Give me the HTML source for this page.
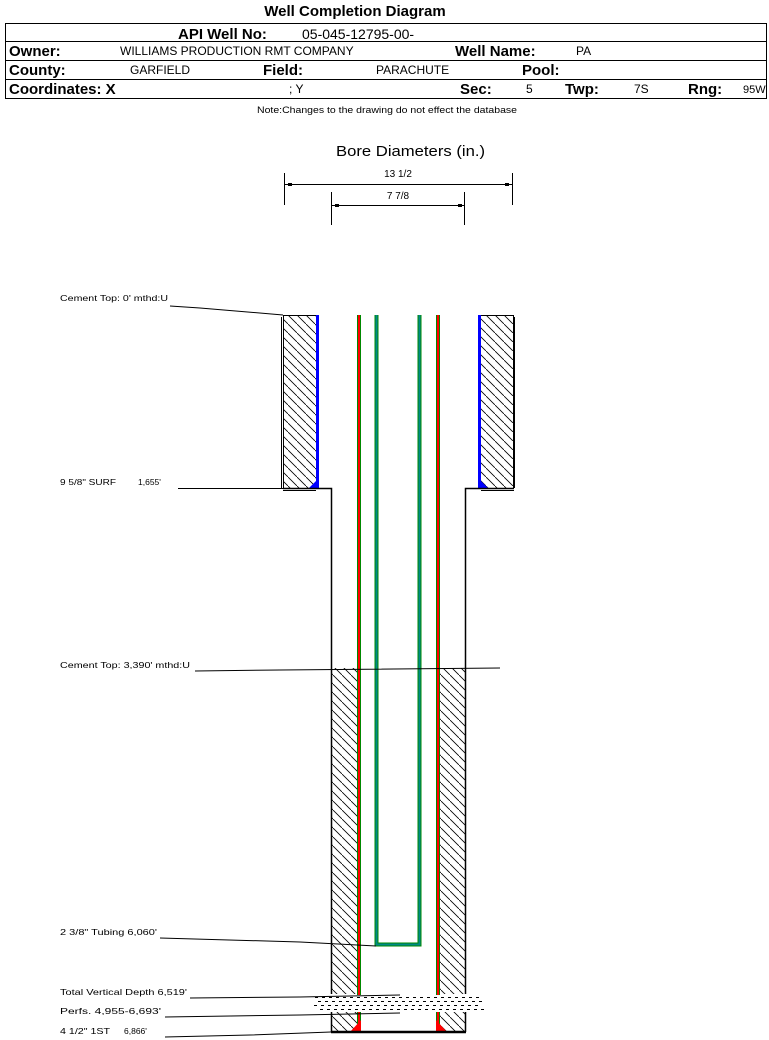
<!DOCTYPE html>
<html><head><meta charset="utf-8"><style>
body{margin:0;background:#fff;}
svg{display:block;font-family:"Liberation Sans",Arial,sans-serif;}
</style></head><body>
<svg width="769" height="1040" viewBox="0 0 769 1040" xmlns="http://www.w3.org/2000/svg">
<defs>
<pattern id="h" width="9" height="9" patternUnits="userSpaceOnUse">
<path d="M-1,-1 L10,10" stroke="#000" stroke-width="0.8"/>
</pattern>
</defs>
<text x="355" y="16" font-size="15" font-weight="bold" text-anchor="middle">Well Completion Diagram</text>
<g stroke="#000" fill="none">
<rect x="5.5" y="23.5" width="761" height="75"/>
<line x1="5" y1="41.5" x2="767" y2="41.5"/>
<line x1="5" y1="60.5" x2="767" y2="60.5"/>
<line x1="5" y1="79.5" x2="767" y2="79.5"/>
</g>
<g font-size="15" font-weight="bold">
<text x="178" y="39">API Well No:</text>
<text x="9" y="56">Owner:</text>
<text x="455" y="56">Well Name:</text>
<text x="9" y="75">County:</text>
<text x="263" y="75">Field:</text>
<text x="522" y="75">Pool:</text>
<text x="9" y="94">Coordinates: X</text>
<text x="460" y="94">Sec:</text>
<text x="565" y="94">Twp:</text>
<text x="688" y="94">Rng:</text>
</g>
<g font-size="12">
<text x="302" y="39" font-size="14">05-045-12795-00-</text>
<text x="120" y="55">WILLIAMS PRODUCTION RMT COMPANY</text>
<text x="576" y="55">PA</text>
<text x="130" y="74">GARFIELD</text>
<text x="376" y="74">PARACHUTE</text>
<text x="289" y="93">; Y</text>
<text x="526" y="93">5</text>
<text x="634" y="93">7S</text>
<text x="743" y="93" font-size="11">95W</text>
</g>
<text x="257" y="113" font-size="9" textLength="260" lengthAdjust="spacingAndGlyphs">Note:Changes to the drawing do not effect the database</text>
<text x="336" y="156" font-size="15" textLength="149" lengthAdjust="spacingAndGlyphs">Bore Diameters (in.)</text>
<g stroke="#000">
<line x1="284.5" y1="173" x2="284.5" y2="205"/><line x1="512.5" y1="173" x2="512.5" y2="205"/>
<line x1="285" y1="184.5" x2="512" y2="184.5"/>
<line x1="331.5" y1="192" x2="331.5" y2="225"/><line x1="464.5" y1="192" x2="464.5" y2="225"/>
<line x1="331" y1="205.5" x2="465" y2="205.5"/>
</g>
<rect x="288" y="183" width="4" height="3"/><rect x="505" y="183" width="4" height="3"/>
<rect x="335" y="204" width="4" height="3"/><rect x="458" y="204" width="4" height="3"/>
<text x="398" y="177" font-size="10" text-anchor="middle">13 1/2</text>
<text x="398" y="199" font-size="10" text-anchor="middle">7 7/8</text>

<rect x="283.5" y="315.5" width="33" height="173" fill="url(#h)" stroke="#000"/>
<rect x="480.5" y="315.5" width="33" height="173" fill="url(#h)" stroke="#000"/>
<rect x="316" y="315" width="3" height="173" fill="#00f"/>
<rect x="478" y="315" width="3" height="173" fill="#00f"/>
<path d="M309,488 L319,488 L319,478Z" fill="#00f"/>
<path d="M478,478 L478,488 L488,488Z" fill="#00f"/>
<g stroke="#000" fill="none">
<line x1="281.5" y1="317" x2="281.5" y2="488"/>
<line x1="514.5" y1="317" x2="514.5" y2="488"/>
<polyline points="283,488.5 331.5,488.5 331.5,1032" stroke-width="1.5"/>
<polyline points="514,488.5 465.5,488.5 465.5,1032" stroke-width="1.5"/>
<line x1="283" y1="490.5" x2="316" y2="490.5"/>
<line x1="481" y1="490.5" x2="514" y2="490.5"/>
</g>
<rect x="332" y="668" width="26" height="364" fill="url(#h)"/>
<rect x="439" y="668" width="26" height="364" fill="url(#h)"/>
<rect x="312" y="994" width="172" height="18" fill="#fff"/>
<g stroke="#000" stroke-dasharray="3,4" stroke-width="1">
<line x1="315" y1="997.5" x2="482" y2="997.5"/>
<line x1="318" y1="1001.5" x2="484" y2="1001.5"/>
<line x1="314" y1="1005.5" x2="480" y2="1005.5"/>
<line x1="320" y1="1009.5" x2="484" y2="1009.5"/>
</g>
<rect x="357" y="315" width="4" height="680" fill="#080"/><rect x="358" y="315" width="2" height="680" fill="#f00"/>
<rect x="436" y="315" width="4" height="680" fill="#080"/><rect x="437" y="315" width="2" height="680" fill="#f00"/>
<rect x="357" y="1012" width="4" height="20" fill="#080"/><rect x="358" y="1012" width="2" height="20" fill="#f00"/>
<rect x="436" y="1012" width="4" height="20" fill="#080"/><rect x="437" y="1012" width="2" height="20" fill="#f00"/>
<path d="M350,1032 L361,1032 L361,1020Z" fill="#f00"/>
<path d="M436,1020 L436,1032 L447,1032Z" fill="#f00"/>
<path d="M376.5,315 L376.5,944.5 L419.5,944.5 L419.5,315" fill="none" stroke="#080" stroke-width="4"/>
<path d="M376.5,315 L376.5,944.5 L419.5,944.5 L419.5,315" fill="none" stroke="#088" stroke-width="2"/>
<line x1="331" y1="1032" x2="466" y2="1032" stroke="#000" stroke-width="2.5"/>
<g stroke="#000" fill="none">
<polyline points="170,306 200,308 283,315"/>
<line x1="178" y1="488.5" x2="283" y2="488.5"/>
<polyline points="195,671 280,670 500,668"/>
<polyline points="160,938 300,942 376,946"/>
<polyline points="190,998 300,997 400,995"/>
<polyline points="165,1017 300,1015 400,1013"/>
<polyline points="165,1037 250,1035 331,1032"/>
</g>
<g font-size="8.5">
<text x="60" y="301" textLength="108" lengthAdjust="spacingAndGlyphs">Cement Top: 0' mthd:U</text>
<text x="60" y="485" textLength="56" lengthAdjust="spacingAndGlyphs">9 5/8" SURF</text>
<text x="138" y="485">1,655'</text>
<text x="60" y="668" textLength="130" lengthAdjust="spacingAndGlyphs">Cement Top: 3,390' mthd:U</text>
<text x="60" y="935" textLength="97" lengthAdjust="spacingAndGlyphs">2 3/8" Tubing 6,060'</text>
<text x="60" y="995" textLength="127" lengthAdjust="spacingAndGlyphs">Total Vertical Depth 6,519'</text>
<text x="60" y="1014" textLength="101" lengthAdjust="spacingAndGlyphs">Perfs. 4,955-6,693'</text>
<text x="60" y="1034" textLength="50" lengthAdjust="spacingAndGlyphs">4 1/2" 1ST</text>
<text x="124" y="1034">6,866'</text>
</g>
</svg>
</body></html>
